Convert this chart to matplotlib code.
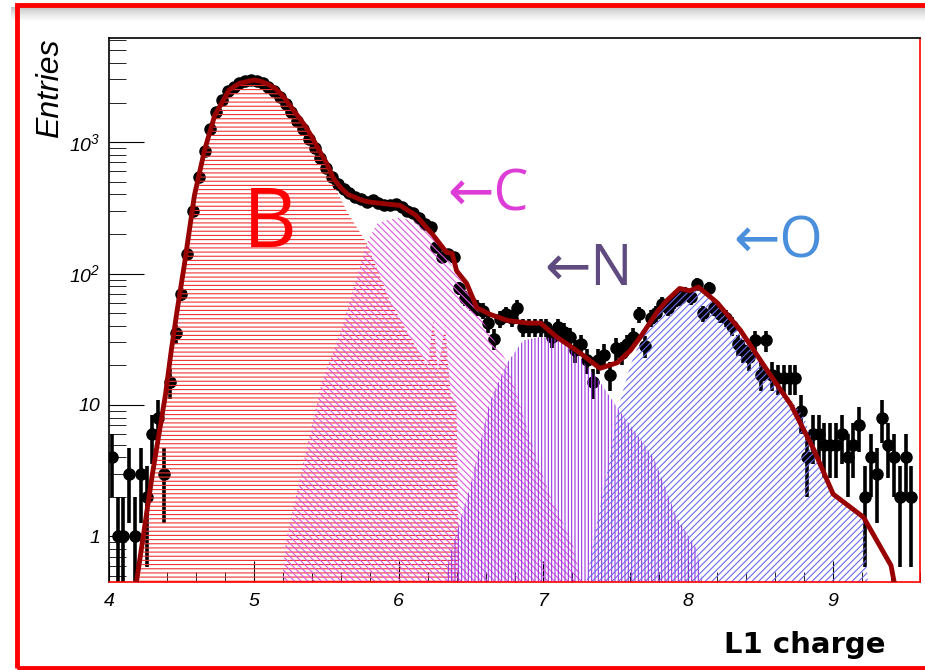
import numpy as np
import matplotlib.pyplot as plt
from matplotlib.patches import Rectangle
from matplotlib.ticker import MultipleLocator, LogLocator, NullFormatter

plt.rcParams['font.family'] = ['Liberation Sans', 'DejaVu Sans']
plt.rcParams['mathtext.fontset'] = 'custom'
plt.rcParams['mathtext.rm'] = 'Liberation Sans:italic'
plt.rcParams['mathtext.it'] = 'Liberation Sans:italic'
plt.rcParams['hatch.linewidth'] = 0.8

# data histogram: 140 bins of 0.04 from 4.0
bin_lo = 4.0
bin_w = 0.04
counts = [4, 1, 1, 3, 1, 3, 2, 6, 8, 3,
          15, 35, 70, 140, 300, 540, 850, 1250, 1700, 2100,
          2450, 2650, 2800, 2900, 2950, 2900, 2800, 2650, 2450, 2200,
          1950, 1700, 1450, 1250, 1050, 900, 760, 640, 540, 480,
          440, 410, 380, 370, 350, 360, 345, 335, 330, 340,
          320, 300, 290, 263, 240, 228, 158, 133, 140, 133,
          77, 65, 60, 55, 52, 42, 32, 45, 49, 46,
          55, 39, 39, 39, 39, 39, 33, 39, 36, 33,
          26, 29, 22, 15, 22, 24, 17, 27, 25, 29,
          33, 49, 28, 46, 50, 59, 55, 62, 65, 70,
          66, 84, 50, 77, 55, 49, 46, 40, 29, 26,
          23, 31, 17, 31, 17, 16, 16, 16, 16, 9,
          4, 6, 6, 5, 5, 5, 6, 4, 5, 7,
          2, 4, 3, 8, 5, 4, 2, 4, 2, 0]

# total fit
fit_x = [4.19, 4.30, 4.39, 4.43, 4.47, 4.52, 4.59, 4.66, 4.73, 4.83,
         4.90, 5.00, 5.05, 5.10, 5.15, 5.20, 5.25, 5.30, 5.35, 5.40,
         5.45, 5.50, 5.55, 5.60, 5.65, 5.70, 5.75, 5.80, 5.85, 5.90,
         6.01, 6.12, 6.24, 6.33, 6.37, 6.40, 6.47, 6.54, 6.63, 6.75,
         6.89, 6.98, 7.09, 7.25, 7.39, 7.51, 7.60, 7.67, 7.79, 7.85,
         7.94, 8.01, 8.07, 8.20, 8.36, 8.55, 8.71, 8.87, 9.00, 9.21,
         9.40, 9.43]
fit_y = [0.45, 3, 12, 26, 52, 116, 394, 870, 1600, 2500,
         2800, 2970, 2900, 2750, 2550, 2250, 1900, 1600, 1350, 1100,
         870, 700, 530, 450, 400, 380, 360, 350, 345, 340,
         330, 277, 195, 145, 142, 105, 84, 55, 49, 44,
         42, 42, 33, 25, 19, 21, 26, 33, 52, 62,
         77, 74, 79, 60, 37, 18, 10, 4.5, 2.1, 1.4,
         0.6, 0.4]

# templates
b_x = [4.19, 4.30, 4.39, 4.43, 4.47, 4.52, 4.59, 4.66, 4.73, 4.83,
       4.90, 5.00, 5.10, 5.20, 5.30, 5.40, 5.50, 5.54, 5.64, 5.78,
       5.94, 6.10, 6.20, 6.24, 6.27, 6.32, 6.36, 6.40, 6.42]
b_y = [0.3, 3, 12, 26, 52, 116, 394, 870, 1600, 2500,
       2800, 2970, 2750, 2250, 1600, 1100, 700, 510, 300, 170,
       62, 30, 20, 45, 18, 40, 12, 10, 0.3]
c_x = [5.18, 5.22, 5.35, 5.47, 5.60, 5.78, 5.85, 5.92, 6.00, 6.10,
       6.24, 6.33, 6.40, 6.47, 6.51, 6.60, 6.75, 6.85, 6.95, 7.05,
       7.20, 7.30]
c_y = [0.3, 0.9, 4, 15, 36, 170, 240, 255, 265, 255,
       185, 135, 100, 75, 62, 40, 21, 9, 4, 2,
       0.9, 0.3]
n_x = [6.30, 6.35, 6.49, 6.63, 6.75, 6.86, 6.98, 7.10, 7.25, 7.39,
       7.51, 7.60, 7.76, 7.92, 8.06, 8.12]
n_y = [0.3, 0.7, 2.3, 10.7, 21, 31, 33, 32, 23, 15,
       9.5, 7, 4, 1.4, 0.8, 0.3]
o_x = [7.27, 7.35, 7.45, 7.51, 7.60, 7.67, 7.79, 7.85, 7.94, 8.01,
       8.07, 8.20, 8.36, 8.55, 8.71, 8.80, 8.90, 9.00, 9.21, 9.25]
o_y = [0.3, 1.0, 3.5, 9, 20, 31, 50, 60, 72, 72,
       75, 58, 36, 18, 11, 8, 4, 2.2, 1.4, 0.3]

fig = plt.figure(figsize=(9.25, 6.7), dpi=100)
fig.patch.set_facecolor('white')

# frame + shadow
shadow = fig.add_axes([0.012, 1 - 22 / 670, 0.99, 15 / 670])
shadow.imshow(np.linspace(0.35, 0, 50).reshape(-1, 1), cmap='Greys', aspect='auto', vmin=0, vmax=1)
shadow.axis('off')
fig.add_artist(Rectangle((17 / 925, 2 / 670), 1.0, 1 - 6.5 / 670, transform=fig.transFigure,
                         fill=False, edgecolor='red', linewidth=3.5))

ax = fig.add_axes([109 / 925, 1 - 582 / 670, 811 / 925, 544 / 670])
ax.set_yscale('log')

cnt = np.array(counts, float)
xc = bin_lo + bin_w * (np.arange(len(cnt)) + 0.5)
ok = cnt > 0
err = np.sqrt(cnt)
lo = np.minimum(err, cnt - 0.01)
ax.errorbar(xc[ok], cnt[ok], yerr=[lo[ok], err[ok]], fmt='o', color='black',
            ms=8, elinewidth=2.6, capsize=0, zorder=1)

for xs, ys, col, hat in [(b_x, b_y, '#ee3333', '----'),
                         (c_x, c_y, '#dd55dd', '\\\\\\\\\\'),
                         (n_x, n_y, '#9933dd', '|||||'),
                         (o_x, o_y, '#6a6aee', '/////')]:
    ax.fill_between(xs, 0.3, ys, facecolor='none', edgecolor=col, hatch=hat,
                    linewidth=0, zorder=2)

ax.plot(fit_x, fit_y, color='#990000', lw=3.5, zorder=3)

ax.text(5.11, 230, 'B', color='red', fontsize=60, ha='center', va='center',
        family=['Open Sans', 'DejaVu Sans'], zorder=5)
ax.text(6.62, 390, '←C', color='#dd3dd6', fontsize=40, ha='center', va='center',
        family=['Open Sans', 'DejaVu Sans'], zorder=5)
ax.text(7.31, 105, '←N', color='#5f4b7f', fontsize=40, ha='center', va='center',
        family=['Open Sans', 'DejaVu Sans'], zorder=5)
ax.text(8.62, 170, '←O', color='#4a8fdb', fontsize=40, ha='center', va='center',
        family=['Open Sans', 'DejaVu Sans'], zorder=5)

ax.set_xlim(4, 9.6)
ax.set_ylim(0.45, 6200)

ax.xaxis.set_major_locator(MultipleLocator(1))
ax.xaxis.set_minor_locator(MultipleLocator(0.2))
ax.set_yticks([1, 10, 100, 1000])
ax.set_yticklabels(['1', '10', '$10^{2}$', '$10^{3}$'])
ax.yaxis.set_minor_locator(LogLocator(base=10, subs=np.arange(2, 10), numticks=20))
ax.yaxis.set_minor_formatter(NullFormatter())
ax.tick_params(which='both', direction='in', top=False, right=False, labelsize=14)
ax.tick_params(axis='y', which='major', length=25, pad=6)
ax.tick_params(axis='y', which='minor', length=12)
ax.tick_params(axis='x', which='major', length=15, pad=8)
ax.tick_params(axis='x', which='minor', length=7)
for lab in ax.get_xticklabels() + ax.get_yticklabels():
    lab.set_fontstyle('italic')

ax.spines['bottom'].set_color('red')
ax.spines['right'].set_color('red')
for s in ax.spines.values():
    s.set_linewidth(1.2)

fig.text(50 / 925, 1 - 38 / 670, 'Entries', rotation=90, ha='center', va='top',
         fontsize=23, fontstyle='italic')
fig.text(885 / 925, 1 - 645 / 670, 'L1 charge', ha='right', va='center',
         fontsize=21, fontweight='bold', family='DejaVu Sans')

fig.savefig('out.png', dpi=100)
